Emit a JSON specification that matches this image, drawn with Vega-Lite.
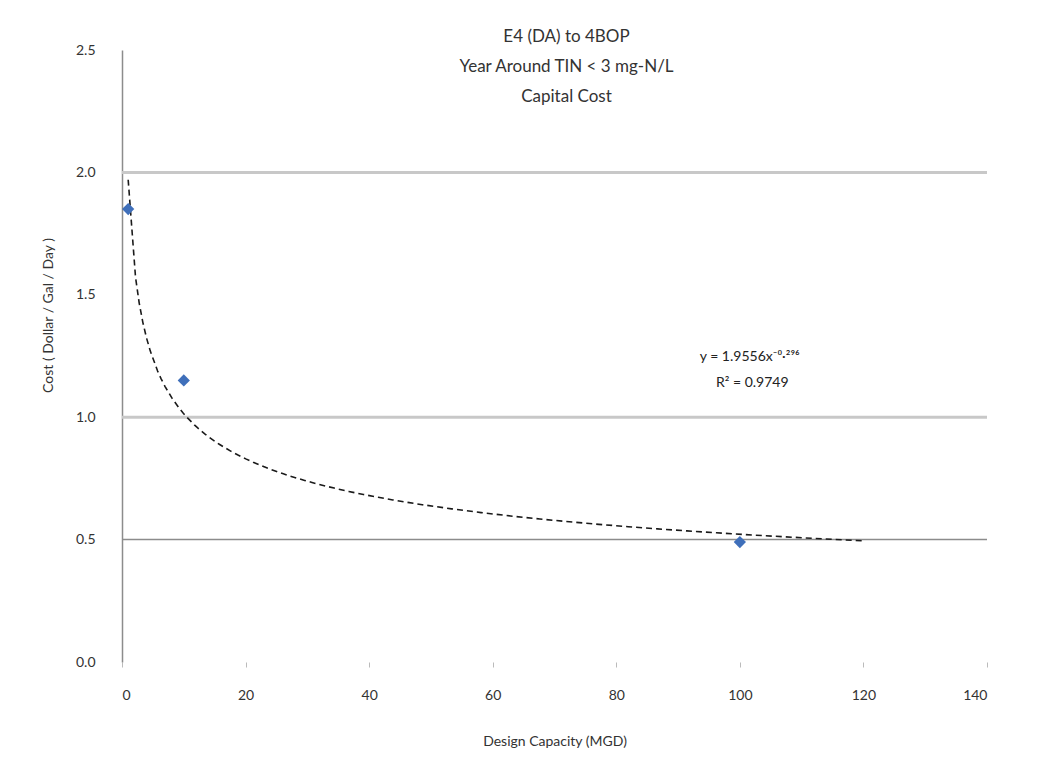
{
  "$schema": "https://vega.github.io/schema/vega-lite/v6.json",
  "width": 865,
  "height": 612,
  "autosize": "none",
  "padding": {"left": 122, "top": 50, "right": 61, "bottom": 109},
  "background": "white",
  "config": {
    "view": {"stroke": null},
    "font": "Lato",
    "axis": {"labelFont": "Lato", "titleFont": "Lato", "labelColor": "#333333", "titleColor": "#333333"}
  },
  "title": {
    "text": ["E4 (DA) to 4BOP", "Year Around TIN < 3 mg-N/L", "Capital Cost"],
    "fontSize": 17,
    "fontWeight": "normal",
    "font": "Lato",
    "color": "#333333",
    "lineHeight": 30,
    "offset": -63,
    "anchor": "middle",
    "dx": 12
  },
  "datasets": {
    "points": [
      {"capacity": 1, "cost": 1.85},
      {"capacity": 10, "cost": 1.15},
      {"capacity": 100, "cost": 0.49}
    ],
    "lightGrid": [{"value": 1.0}, {"value": 2.0}],
    "darkGrid": [{"value": 0.5}],
    "labels": [
      {"capacity": 101.6, "cost": 1.245, "text": "y = 1.9556x⁻⁰·²⁹⁶"},
      {"capacity": 102, "cost": 1.14, "text": "R² = 0.9749"}
    ]
  },
  "layer": [
    {
      "data": {"name": "lightGrid"},
      "mark": {"type": "rule", "color": "#c8c8c8", "strokeWidth": 3},
      "encoding": {"y": {"field": "value", "type": "quantitative", "scale": {"domain": [0, 2.5]}}}
    },
    {
      "data": {"name": "darkGrid"},
      "mark": {"type": "rule", "color": "#8c8c8c", "strokeWidth": 1.5},
      "encoding": {"y": {"field": "value", "type": "quantitative"}}
    },
    {
      "data": {"name": "points"},
      "transform": [
        {"regression": "cost", "on": "capacity", "method": "pow", "extent": [1, 120]}
      ],
      "mark": {"type": "line", "color": "#1a1a1a", "strokeWidth": 1.6, "strokeDash": [6, 4]},
      "encoding": {
        "x": {"field": "capacity", "type": "quantitative"},
        "y": {"field": "cost", "type": "quantitative"}
      }
    },
    {
      "data": {"name": "points"},
      "mark": {"type": "point", "shape": "diamond", "filled": true, "color": "#3f6fba", "size": 150, "opacity": 1},
      "encoding": {
        "x": {
          "field": "capacity",
          "type": "quantitative",
          "scale": {"domain": [0, 140], "nice": false},
          "axis": {
            "values": [0, 20, 40, 60, 80, 100, 120, 140],
            "title": "Design Capacity (MGD)",
            "titleFontSize": 14,
            "titleFontWeight": "normal",
            "titlePadding": 32,
            "labelFontSize": 14,
            "labelPadding": 21,
            "domain": false,
            "ticks": true,
            "tickSize": 5,
            "tickColor": "#bbbbbb",
            "grid": false
          }
        },
        "y": {
          "field": "cost",
          "type": "quantitative",
          "scale": {"domain": [0, 2.5], "nice": false},
          "axis": {
            "values": [0, 0.5, 1, 1.5, 2, 2.5],
            "format": ".1f",
            "title": "Cost ( Dollar / Gal / Day )",
            "titleFontSize": 14,
            "titleFontWeight": "normal",
            "titlePadding": 20,
            "titleY": 265,
            "labelFontSize": 14,
            "labelPadding": 27,
            "ticks": false,
            "domain": true,
            "domainColor": "#8c8c8c",
            "domainWidth": 1.5,
            "grid": false
          }
        }
      }
    },
    {
      "data": {"name": "labels"},
      "mark": {"type": "text", "fontSize": 14, "font": "Lato", "color": "#222222", "align": "center", "baseline": "middle"},
      "encoding": {
        "x": {"field": "capacity", "type": "quantitative"},
        "y": {"field": "cost", "type": "quantitative"},
        "text": {"field": "text", "type": "nominal"}
      }
    }
  ]
}
